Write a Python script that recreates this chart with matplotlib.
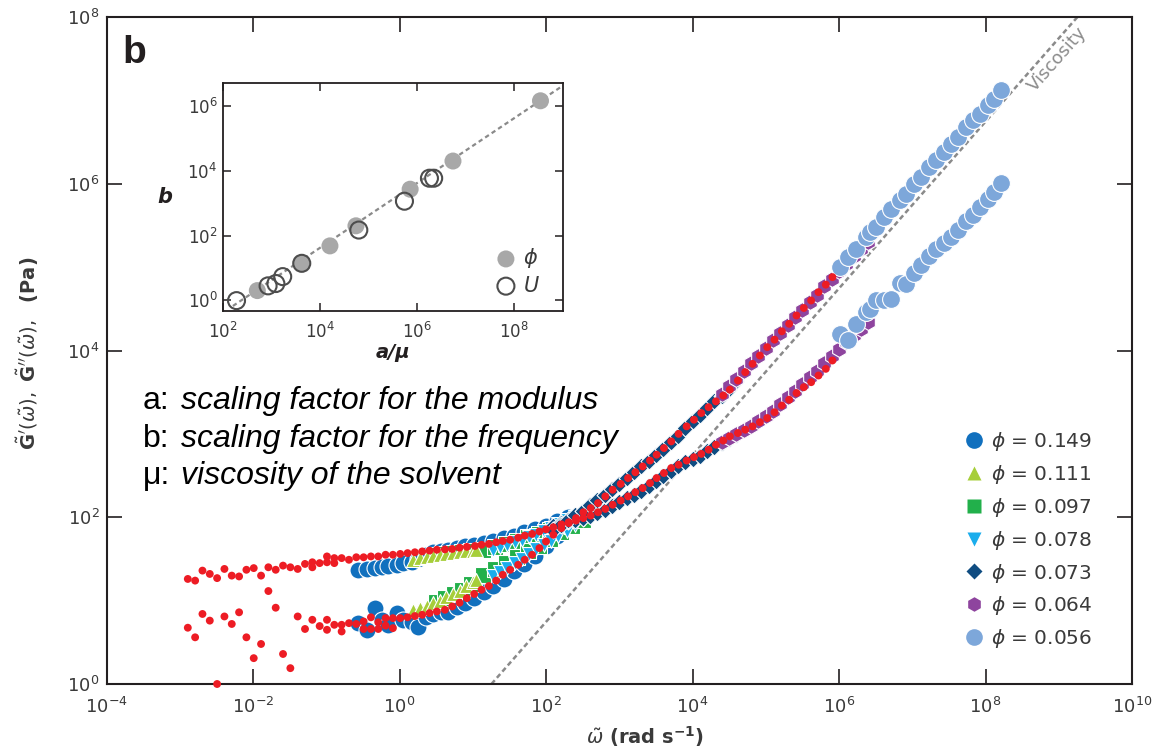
import numpy as np
import matplotlib
matplotlib.use('Agg')
import matplotlib.pyplot as plt
from matplotlib.lines import Line2D
from matplotlib.ticker import FixedLocator, LogFormatterSciNotation, NullLocator

# ---------------- data (log10 values) ----------------
# red master curve, branch 1 (G', upper at low frequency)
red_w1 = [-2.89, -2.79, -2.69, -2.59, -2.49, -2.39, -2.29, -2.19, -2.09, -1.99, -1.89, -1.79,
          -1.69, -1.59, -1.49, -1.39, -1.29, -1.19, -1.19, -1.09, -0.99, -0.99, -0.89, -0.89,
          -0.79, -0.69, -0.59, -0.49, -0.39, -0.29, -0.19, -0.09, 0.01, 0.11, 0.21, 0.31,
          0.41, 0.51, 0.62, 0.72, 0.82, 0.92, 1.03, 1.12, 1.22, 1.32, 1.41, 1.51,
          1.62, 1.71, 1.81, 1.91, 2.0, 2.1, 2.21, 2.31, 2.41, 2.51, 2.61, 2.71,
          2.81, 2.91, 3.02, 3.12, 3.22, 3.32, 3.42, 3.51, 3.61, 3.71, 3.81, 3.92,
          4.02, 4.12, 4.22, 4.32, 4.42, 4.51, 4.62, 4.72, 4.82, 4.92, 5.02, 5.12,
          5.22, 5.32, 5.42, 5.52, 5.62, 5.72, 5.82, 5.91]
red_g1 = [1.26, 1.24, 1.36, 1.32, 1.27, 1.38, 1.30, 1.29, 1.37, 1.39, 1.30, 1.40,
          1.37, 1.42, 1.40, 1.38, 1.44, 1.46, 1.40, 1.45, 1.53, 1.46, 1.51, 1.45,
          1.51, 1.49, 1.52, 1.52, 1.53, 1.53, 1.55, 1.55, 1.56, 1.57, 1.58, 1.59,
          1.60, 1.61, 1.615, 1.62, 1.635, 1.645, 1.655, 1.67, 1.68, 1.70, 1.715, 1.73,
          1.755, 1.78, 1.80, 1.83, 1.855, 1.88, 1.915, 1.94, 1.96, 1.99, 2.02, 2.06,
          2.10, 2.15, 2.20, 2.25, 2.30, 2.35, 2.41, 2.47, 2.53, 2.59, 2.63, 2.68,
          2.72, 2.76, 2.81, 2.87, 2.92, 2.97, 3.01, 3.05, 3.09, 3.14, 3.19, 3.26,
          3.34, 3.41, 3.49, 3.56, 3.62, 3.70, 3.78, 3.88]
# red master curve, branch 2 (G'', lower at low frequency)
red_w2 = [-2.89, -2.79, -2.69, -2.59, -2.49, -2.39, -2.29, -2.19, -2.09, -1.99, -1.89, -1.79,
          -1.69, -1.59, -1.49, -1.39, -1.29, -1.19, -1.09, -0.99, -0.99, -0.89, -0.79, -0.79,
          -0.69, -0.59, -0.49, -0.49, -0.39, -0.39, -0.29, -0.29, -0.19, -0.19, -0.09, -0.09,
          0.01, 0.11, 0.21, 0.31, 0.41, 0.51, 0.62, 0.72, 0.82, 0.92, 1.02, 1.12,
          1.22, 1.32, 1.41, 1.51, 1.62, 1.71, 1.81, 1.91, 2.0, 2.1, 2.21, 2.31,
          2.41, 2.51, 2.61, 2.71, 2.81, 2.91, 3.02, 3.12, 3.22, 3.32, 3.42, 3.51,
          3.61, 3.71, 3.81, 3.92, 4.02, 4.12, 4.22, 4.32, 4.42, 4.51, 4.62, 4.72,
          4.82, 4.92, 5.02, 5.12, 5.22, 5.32, 5.42, 5.52, 5.62, 5.72, 5.82, 5.91]
red_g2 = [0.675, 0.56, 0.84, 0.76, 0.0, 0.81, 0.72, 0.86, 0.56, 0.31, 0.48, 1.115,
          0.915, 0.36, 0.19, 0.81, 0.66, 0.77, 0.695, 0.77, 0.65, 0.71, 0.71, 0.63,
          0.73, 0.72, 0.75, 0.66, 0.80, 0.66, 0.74, 0.66, 0.79, 0.70, 0.79, 0.67,
          0.79, 0.80, 0.815, 0.83, 0.85, 0.87, 0.89, 0.93, 0.975, 1.03, 1.08, 1.13,
          1.175, 1.24, 1.31, 1.37, 1.43, 1.49, 1.55, 1.63, 1.71, 1.79, 1.87, 1.93,
          1.99, 2.06, 2.11, 2.17, 2.25, 2.33, 2.40, 2.47, 2.54, 2.61, 2.68, 2.75,
          2.83, 2.91, 3.0, 3.09, 3.17, 3.25, 3.32, 3.39, 3.46, 3.53, 3.64, 3.74,
          3.84, 3.94, 4.04, 4.13, 4.23, 4.32, 4.42, 4.51, 4.60, 4.70, 4.79, 4.88]

# phi = 0.149
w_149 = [-0.57, -0.45, -0.34, -0.24, -0.16, -0.04, 0.05, 0.17, 0.25, 0.36, 0.46, 0.56, 0.66,
         0.78, 0.9, 1.02, 1.15, 1.28, 1.42, 1.56, 1.70, 1.85, 2.0, 2.15, 2.3]
g1_149 = [1.37, 1.38, 1.39, 1.40, 1.42, 1.43, 1.45, 1.46, 1.50, 1.55, 1.58, 1.60, 1.61,
          1.63, 1.65, 1.67, 1.69, 1.72, 1.75, 1.78, 1.82, 1.86, 1.90, 1.95, 2.00]
g2_149 = [0.73, 0.65, 0.91, 0.77, 0.71, 0.85, 0.77, 0.74, 0.68, 0.80, 0.84, 0.86, 0.86,
          0.92, 0.97, 1.03, 1.10, 1.17, 1.26, 1.35, 1.44, 1.54, 1.65, 1.77, 1.89]
# phi = 0.111
w_111 = [0.19, 0.28, 0.37, 0.46, 0.55, 0.64, 0.73, 0.82, 0.91, 1.0, 1.05]
g1_111 = [1.49, 1.51, 1.52, 1.54, 1.55, 1.56, 1.57, 1.58, 1.59, 1.60, 1.61]
g2_111 = [0.89, 0.91, 0.94, 0.97, 1.0, 1.04, 1.08, 1.12, 1.17, 1.22, 1.25]
# phi = 0.097
w_097 = [0.5, 0.62, 0.74, 0.86, 0.98, 1.14, 1.3, 1.45, 1.6, 1.75, 1.9, 2.05, 2.2, 2.35, 2.5]
g1_097 = [1.55, 1.56, 1.57, 1.58, 1.60, 1.61, 1.64, 1.68, 1.72, 1.76, 1.80, 1.85, 1.90, 1.95, 2.0]
g2_097 = [0.98, 1.03, 1.08, 1.13, 1.20, 1.31, 1.38, 1.45, 1.52, 1.59, 1.66, 1.74, 1.82, 1.90, 1.97]
# phi = 0.078
w_078 = [1.27, 1.37, 1.47, 1.57, 1.67, 1.77, 1.87, 1.97, 2.07, 2.17, 2.28, 2.4, 2.52, 2.64, 2.76, 2.87]
g1_078 = [1.61, 1.64, 1.67, 1.70, 1.73, 1.76, 1.79, 1.83, 1.87, 1.92, 1.97, 2.0, 2.03, 2.06, 2.09, 2.12]
g2_078 = [1.29, 1.34, 1.39, 1.45, 1.50, 1.56, 1.62, 1.67, 1.71, 1.78, 1.84, 1.91, 1.98, 2.04, 2.10, 2.16]
# phi = 0.073
w_073 = [2.1, 2.2, 2.3, 2.4, 2.5, 2.6, 2.7, 2.8, 2.9, 3.0, 3.1, 3.2, 3.3, 3.4, 3.5, 3.6,
         3.7, 3.8, 3.9, 4.0, 4.1, 4.2, 4.3, 4.4, 4.5, 4.6]
g1_073 = [1.90, 1.93, 1.95, 1.97, 1.99, 2.01, 2.05, 2.09, 2.13, 2.18, 2.23, 2.27, 2.32, 2.37, 2.43, 2.49,
          2.55, 2.61, 2.66, 2.70, 2.74, 2.79, 2.84, 2.89, 2.94, 2.99]
g2_073 = [1.85, 1.91, 1.97, 2.03, 2.08, 2.15, 2.21, 2.27, 2.34, 2.40, 2.47, 2.54, 2.61, 2.68, 2.75, 2.82,
          2.90, 2.98, 3.07, 3.15, 3.23, 3.31, 3.39, 3.46, 3.54, 3.63]
# phi = 0.064
w_064 = [4.4, 4.5, 4.6, 4.7, 4.8, 4.9, 5.0, 5.1, 5.2, 5.3, 5.4, 5.5, 5.6, 5.7, 5.8, 5.9,
         6.0, 6.1, 6.2, 6.3, 6.4]
g1_064 = [2.90, 2.95, 3.0, 3.05, 3.10, 3.15, 3.21, 3.28, 3.36, 3.44, 3.52, 3.60, 3.68, 3.76, 3.85, 3.94,
          4.02, 4.10, 4.18, 4.26, 4.34]
g2_064 = [3.48, 3.57, 3.66, 3.75, 3.85, 3.94, 4.03, 4.12, 4.21, 4.31, 4.40, 4.49, 4.58, 4.67, 4.77, 4.86,
          4.95, 5.04, 5.13, 5.22, 5.30]
# phi = 0.056
w_056 = [6.01, 6.12, 6.23, 6.37, 6.42, 6.51, 6.62, 6.71, 6.83, 6.92, 7.03, 7.12, 7.23, 7.33,
         7.44, 7.53, 7.62, 7.74, 7.83, 7.92, 8.03, 8.12, 8.21]
g1_056 = [4.20, 4.12, 4.32, 4.46, 4.50, 4.60, 4.60, 4.62, 4.81, 4.80, 4.93, 5.02, 5.13, 5.22,
          5.29, 5.36, 5.45, 5.55, 5.62, 5.72, 5.82, 5.90, 6.01]
g2_056 = [5.00, 5.12, 5.22, 5.36, 5.42, 5.48, 5.60, 5.70, 5.80, 5.88, 6.00, 6.08, 6.20, 6.28,
          6.38, 6.48, 6.56, 6.68, 6.76, 6.84, 6.94, 7.02, 7.12]

phi_labels = ['0.149', '0.111', '0.097', '0.078', '0.073', '0.064', '0.056']

# viscosity guide line (omega, modulus)
visc_w = [1.8e1, 1.8e9]
visc_g = [1.0e0, 1.0e8]

# inset: b vs a/mu
phi_amu = [5.1e2, 4.1e3, 1.6e4, 5.5e4, 7.2e5, 5.5e6, 3.5e8]
phi_b = [2.0, 13.9, 48, 200, 2700, 2.0e4, 1.45e6]
u_amu = [1.9e2, 8.5e2, 1.23e3, 1.7e3, 4.2e3, 6.3e4, 5.5e5, 1.8e6, 2.2e6]
u_b = [0.98, 2.8, 3.3, 5.4, 13.9, 148, 1150, 5900, 5900]
fit_amu = [1.6e2, 1.0e9]
fit_b = [0.67, 4.2e6]

# ---------------- plotting ----------------
W, H = 1152, 750
fig = plt.figure(figsize=(W / 100, H / 100), dpi=100)


def fx(px):
    return px / W


def fy(py):
    return 1 - py / H


ax = fig.add_axes([fx(106.5), fy(684), fx(1132) - fx(106.5), fy(17) - fy(684)])
ax.set_xscale('log')
ax.set_yscale('log')
ax.set_xlim(1e-4, 1e10)
ax.set_ylim(1e0, 1e8)

dark = '#231f20'
txt = '#3a3a3a'
grey_line = '#8a8a8a'

ax.plot(visc_w, visc_g, color=grey_line, lw=1.8, ls=(0, (2.0, 1.3)), zorder=1)
ax.text(9.5e8, 3.1e7, 'Viscosity', color='#8c8c8c', fontsize=13, rotation=48.7,
        rotation_mode='anchor', ha='center', va='center')

styles = {
    '0.149': dict(marker='o', c='#1170be', s=150),
    '0.111': dict(marker='^', c='#a6ce39', s=100),
    '0.097': dict(marker='s', c='#22b04b', s=120),
    '0.078': dict(marker='v', c='#1badec', s=100),
    '0.073': dict(marker='D', c='#0f4c81', s=75),
    '0.064': dict(marker='h', c='#8e449e', s=130),
    '0.056': dict(marker='o', c='#7da7da', s=165),
}
data = {
    '0.149': (w_149, g1_149, g2_149),
    '0.111': (w_111, g1_111, g2_111),
    '0.097': (w_097, g1_097, g2_097),
    '0.078': (w_078, g1_078, g2_078),
    '0.073': (w_073, g1_073, g2_073),
    '0.064': (w_064, g1_064, g2_064),
    '0.056': (w_056, g1_056, g2_056),
}
draw_order = ['0.149', '0.097', '0.111', '0.078', '0.073', '0.064', '0.056']
for z, key in enumerate(draw_order):
    w, g1, g2 = data[key]
    w = 10 ** np.array(w)
    st = styles[key]
    for g in (g1, g2):
        ax.scatter(w, 10 ** np.array(g), marker=st['marker'], color=st['c'], s=st['s'],
                   edgecolors='white', linewidths=0.8, zorder=3 + z)

ax.scatter(10 ** np.array(red_w1), 10 ** np.array(red_g1), s=32, color='#ed1c24',
           edgecolors='none', zorder=20, clip_on=False)
ax.scatter(10 ** np.array(red_w2), 10 ** np.array(red_g2), s=32, color='#ed1c24',
           edgecolors='none', zorder=20, clip_on=False)

# axes styling
ax.xaxis.set_major_locator(FixedLocator([10.0 ** k for k in range(-4, 11, 2)]))
ax.yaxis.set_major_locator(FixedLocator([10.0 ** k for k in range(0, 9, 2)]))
ax.xaxis.set_minor_locator(NullLocator())
ax.yaxis.set_minor_locator(NullLocator())
ax.xaxis.set_major_formatter(LogFormatterSciNotation())
ax.yaxis.set_major_formatter(LogFormatterSciNotation())
ax.tick_params(which='major', direction='in', length=11, width=1.2, color=dark,
               top=True, right=True, labelsize=13, labelcolor=txt)
ax.tick_params(axis='x', pad=9)
ax.tick_params(axis='y', pad=5)
for sp in ax.spines.values():
    sp.set_linewidth(1.5)
    sp.set_color(dark)

ax.set_xlabel(r'$\tilde{\omega}$ (rad s$^{\mathbf{-1}}$)', fontsize=14, fontweight='bold', color=txt)
ax.xaxis.set_label_coords(0.525, -0.06)
ax.set_ylabel(r"$\tilde{\mathbf{G}}'(\tilde{\omega}),\ \tilde{\mathbf{G}}''(\tilde{\omega}),$  (Pa)",
              fontsize=14, fontweight='bold', color=txt)
ax.yaxis.set_label_coords(-0.064, 0.496)

# legend
handles = []
leg_ms = {'0.149': 12, '0.111': 9.5, '0.097': 9.5, '0.078': 9.5, '0.073': 8.5, '0.064': 10.5, '0.056': 12}
for key in phi_labels:
    st = styles[key]
    handles.append(Line2D([], [], ls='none', marker=st['marker'], color=st['c'],
                          markersize=leg_ms[key], markeredgecolor='none'))
leg = ax.legend(handles, [r'$\phi$ = ' + k for k in phi_labels], loc='upper left',
                bbox_to_anchor=(fx(954), fy(420)), bbox_transform=fig.transFigure,
                frameon=False, fontsize=14.5, handlelength=1.0, handletextpad=0.35,
                labelspacing=0.49, borderpad=0)
for t in leg.get_texts():
    t.set_color(txt)

# panel label and annotation text
fig.text(fx(122), fy(53), 'b', fontsize=28, fontweight='bold', color=dark, va='center',
         family='Liberation Sans')
notes = [('a:', 'scaling factor for the modulus', 401),
         ('b:', 'scaling factor for the frequency', 439),
         ('\u03bc:', 'viscosity of the solvent', 476)]
for lab, body, py in notes:
    fig.text(fx(143), fy(py), lab, fontsize=23, family='Liberation Sans', va='center', color='black')
    fig.text(fx(181), fy(py), body, fontsize=23, family='Liberation Sans', style='italic',
             va='center', color='black')

# ---------------- inset ----------------
ax2 = fig.add_axes([fx(223), fy(310.7), fx(562.6) - fx(223), fy(82.7) - fy(310.7)])
ax2.set_xscale('log')
ax2.set_yscale('log')
ax2.set_xlim(1e2, 1e9)
ax2.set_ylim(10 ** -0.32, 10 ** 6.72)
ax2.plot(fit_amu, fit_b, color=grey_line, lw=1.6, ls=(0, (2.0, 1.5)), zorder=1)
ax2.scatter(phi_amu, phi_b, s=150, color='#a8a8a8', edgecolors='none', zorder=2, label=r'$\phi$')
ax2.scatter(u_amu, u_b, s=150, facecolors='none', edgecolors='#4d4d4d', linewidths=1.5,
            zorder=3, label=r'$U$')
ax2.xaxis.set_major_locator(FixedLocator([1e2, 1e4, 1e6, 1e8]))
ax2.yaxis.set_major_locator(FixedLocator([1e0, 1e2, 1e4, 1e6]))
ax2.xaxis.set_minor_locator(NullLocator())
ax2.yaxis.set_minor_locator(NullLocator())
ax2.xaxis.set_major_formatter(LogFormatterSciNotation())
ax2.yaxis.set_major_formatter(LogFormatterSciNotation())
ax2.tick_params(which='major', direction='in', length=6, width=1.1, color=dark,
                top=True, right=True, labelsize=12, labelcolor=txt)
ax2.tick_params(axis='x', pad=8)
ax2.tick_params(axis='y', pad=4)
for sp in ax2.spines.values():
    sp.set_linewidth(1.3)
    sp.set_color(dark)
ax2.set_xlabel('a/\u03bc', fontsize=14, color=dark, fontweight='bold', style='italic', labelpad=1)
ax2.set_ylabel('b', fontsize=15, color=dark, fontweight='bold', style='italic',
               rotation=0, labelpad=16, va='center')
lg2 = ax2.legend(loc='upper left', bbox_to_anchor=(fx(483), fy(236)), bbox_transform=fig.transFigure,
                 frameon=False, fontsize=15, handletextpad=0.2, borderpad=0,
                 labelspacing=0.25, handlelength=1.2)
for t in lg2.get_texts():
    t.set_color(txt)

fig.savefig('out.png', dpi=100)
